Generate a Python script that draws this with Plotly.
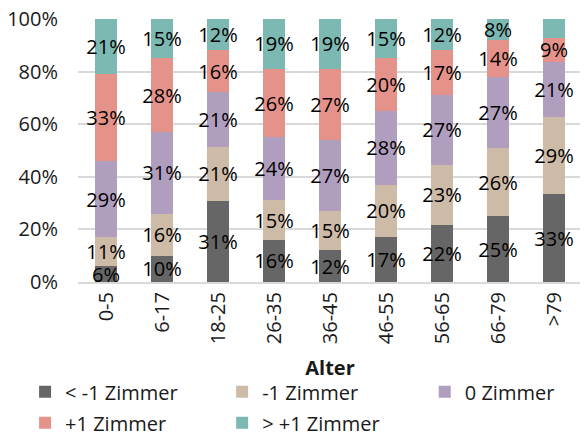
import plotly.graph_objects as go

# age groups on the x axis
alter = ["0-5", "6-17", "18-25", "26-35", "36-45", "46-55", "56-65", "66-79", ">79"]

# shares per room-difference class (percent)
kleiner_1 = [6, 10, 31, 16, 12, 17, 22, 25, 33]
minus_1 = [11, 16, 21, 15, 15, 20, 23, 26, 29]
null_z = [29, 31, 21, 24, 27, 28, 27, 27, 21]
plus_1 = [33, 28, 16, 26, 27, 20, 17, 14, 9]
groesser_1 = [21, 15, 12, 19, 19, 15, 12, 8, 7]

# legend laid out in three columns, like the original
series = [
    ("< -1 Zimmer", kleiner_1, "#666666", "legend"),
    ("-1 Zimmer", minus_1, "#CDBAA7", "legend2"),
    ("0 Zimmer", null_z, "#B09EBE", "legend3"),
    ("+1 Zimmer", plus_1, "#E5928B", "legend"),
    ("> +1 Zimmer", groesser_1, "#7DB9B3", "legend2"),
]

FS = 20

fig = go.Figure()
for name, vals, col, leg in series:
    fig.add_trace(go.Bar(
        x=alter, y=vals, name=name, legend=leg, legendgroup=name,
        marker=dict(color=col, line=dict(width=0)),
        text=[f"{v}%" for v in vals],
        textposition="inside",
        textangle=0,
        insidetextanchor="middle",
        constraintext="none",
        textfont=dict(color="black", size=FS),
        cliponaxis=False,
    ))

leg_style = dict(
    orientation="v",
    y=-0.343, yanchor="top",
    xanchor="left",
    traceorder="grouped",
    tracegroupgap=2,
    font=dict(size=FS),
    itemwidth=30,
    bgcolor="rgba(0,0,0,0)",
)

fig.update_layout(
    barmode="stack",
    barnorm="percent",
    bargap=0.6,
    width=588, height=434,
    plot_bgcolor="white",
    paper_bgcolor="white",
    font=dict(family="Open Sans", size=FS, color="#1a1a1a"),
    margin=dict(l=70, r=14, t=11, b=160, autoexpand=False),
    uniformtext=dict(mode="show", minsize=FS),
    xaxis=dict(
        title=dict(text="<b>Alter</b>", font=dict(size=FS), standoff=18),
        tickangle=-90,
        showline=True, linecolor="#D9D9D9", linewidth=2,
        ticks="", automargin=False,
    ),
    yaxis=dict(
        range=[0, 100], dtick=20, ticksuffix="%",
        showgrid=True, gridcolor="#D9D9D9", gridwidth=1.5,
        zeroline=False, ticks="", ticklabelstandoff=19,
        ticklabeloverflow="allow",
        automargin=False,
    ),
    legend=dict(leg_style, x=-0.105),
    legend2=dict(leg_style, x=0.286),
    legend3=dict(leg_style, x=0.688),
)

fig.write_html("out.html")
